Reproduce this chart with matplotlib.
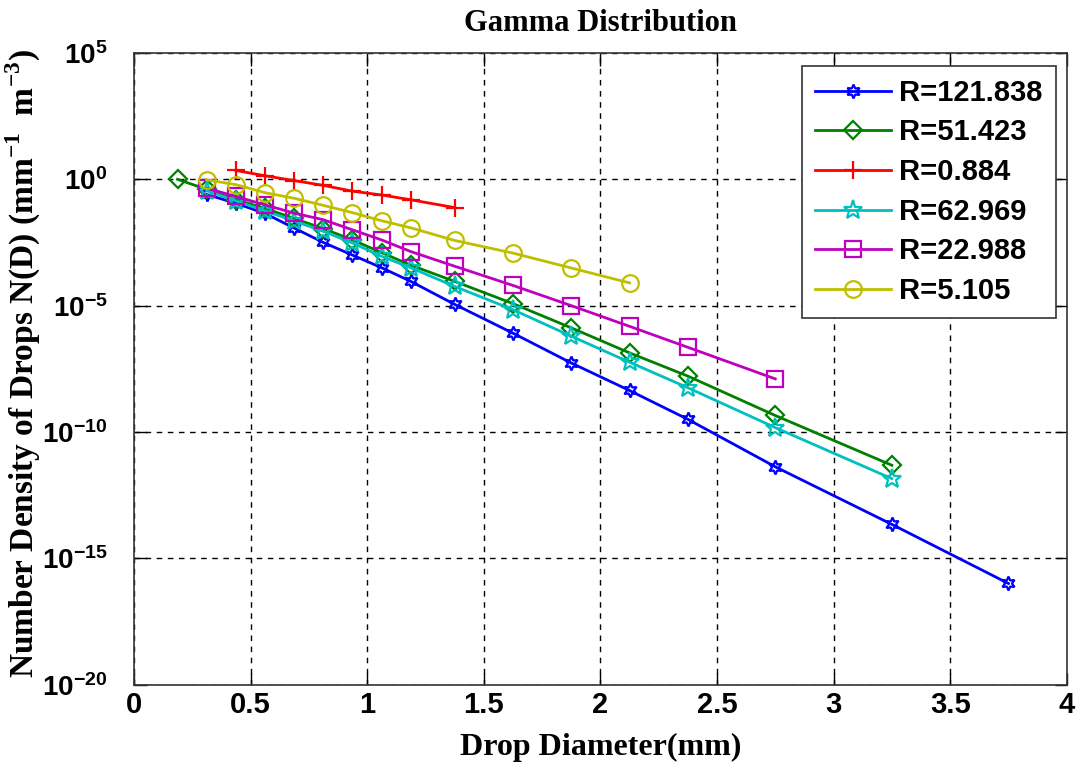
import numpy as np
import matplotlib
matplotlib.use('Agg')
import matplotlib.pyplot as plt
from matplotlib.ticker import FixedLocator, FuncFormatter, NullLocator

plt.rcParams['mathtext.fontset'] = 'custom'
plt.rcParams['mathtext.bf'] = 'Liberation Sans:bold'
plt.rcParams['mathtext.rm'] = 'Liberation Sans:bold'

# drop diameter classes (mm)
diam = [0.187, 0.312, 0.437, 0.562, 0.687, 0.812, 0.937, 1.062, 1.187,
        1.375, 1.625, 1.875, 2.125, 2.375, 2.75, 3.25, 3.75]

# log10 of N(D)
log_r121 = [-0.6, -0.95, -1.35, -1.93, -2.5, -3.0, -3.5, -4.04, -4.95,
            -6.09, -7.27, -8.36, -9.5, -11.38, -13.66, -16.0]
log_r51 = [0.0, -0.4, -0.8, -1.15, -1.55, -1.95, -2.4, -2.9, -3.4, -4.04,
           -4.92, -5.88, -6.87, -7.79, -9.35, -11.32]
log_r0884 = [0.35, 0.14, -0.05, -0.24, -0.47, -0.62, -0.81, -1.12]
log_r62 = [-0.45, -0.85, -1.25, -1.65, -2.06, -2.52, -3.05, -3.5, -4.24,
           -5.16, -6.21, -7.24, -8.25, -9.83, -11.85]
log_r22 = [-0.35, -0.68, -1.01, -1.34, -1.6, -2.0, -2.4, -2.86, -3.44,
           -4.2, -5.0, -5.82, -6.65, -7.9]
log_r5 = [-0.02, -0.21, -0.53, -0.75, -1.03, -1.32, -1.64, -1.92, -2.42,
          -2.92, -3.51, -4.1]

labels = ['R=121.838', 'R=51.423', 'R=0.884', 'R=62.969', 'R=22.988', 'R=5.105']
yticks = [-20, -15, -10, -5, 0, 5]
xticks = [0, 0.5, 1, 1.5, 2, 2.5, 3, 3.5, 4]

fig = plt.figure(figsize=(10.83, 7.65), dpi=100)
ax = fig.add_axes([0.1237, 0.1052, 0.8613, 0.8255])

# (x data, log y, colour, marker, marker size)
series = [
    (diam[1:], log_r121, (0, 0, 1), (6, 1, 0), 10),
    (diam[0:16], log_r51, (0, 0.5, 0), 'D', 9),
    (diam[2:10], log_r0884, (1, 0, 0), '+', 13),
    (diam[1:16], log_r62, (0, 0.75, 0.75), '*', 14),
    (diam[1:15], log_r22, (0.75, 0, 0.75), 's', 12),
    (diam[1:13], log_r5, (0.75, 0.75, 0), 'o', 12),
]

for (x, ly, c, m, ms), lab in zip(series, labels):
    ax.semilogy(x, 10.0 ** np.array(ly), color=c, marker=m, ms=ms,
                mfc='none', mec=c, mew=1.6, lw=2, label=lab)

ax.set_xlim(0, 4)
ax.set_ylim(1e-20, 1e5)
ax.xaxis.set_major_locator(FixedLocator(xticks))
ax.yaxis.set_major_locator(FixedLocator([10.0 ** e for e in yticks]))
ax.yaxis.set_minor_locator(NullLocator())
ax.yaxis.set_major_formatter(FuncFormatter(
    lambda v, p: r'$\mathbf{10^{%d}}$' % int(round(np.log10(v)))))
ax.xaxis.set_major_formatter(FuncFormatter(lambda v, p: '%g' % v))

ax.tick_params(direction='in', length=9, width=1, top=True, right=True)
ax.tick_params(axis='x', labelsize=21, pad=5)
ax.tick_params(axis='y', labelsize=20, pad=19)
for t in ax.get_xticklabels():
    t.set_fontfamily('Liberation Sans')
    t.set_fontweight('bold')

ax.grid(True, color='black', linestyle=(0, (4, 4)), linewidth=1)
for s in ax.spines.values():
    s.set_linewidth(1.2)
    s.set_color('#333333')

ax.set_title('Gamma Distribution', fontfamily='Liberation Serif',
             fontweight='bold', fontsize=22, pad=16)
ax.set_xlabel('Drop Diameter(mm)', fontfamily='Liberation Serif',
              fontweight='bold', fontsize=23, labelpad=10)
ax.set_ylabel(r'Number Density of Drops N(D) (mm$^{\mathregular{-1}}$  m$^{\mathregular{-3}}$)',
              fontfamily='Liberation Serif', fontweight='bold', fontsize=24)
ax.yaxis.set_label_coords(-0.0975, 0.5075)

leg = ax.legend(loc='upper right', bbox_to_anchor=(0.988, 0.98),
                prop={'family': 'Liberation Sans', 'weight': 'bold', 'size': 21},
                fancybox=False, edgecolor='#333333', framealpha=1,
                handlelength=2.6, handletextpad=0.28, labelspacing=0.4,
                borderpad=0.45, borderaxespad=0)
leg.get_frame().set_linewidth(1.2)

fig.savefig('out.png', dpi=100)
